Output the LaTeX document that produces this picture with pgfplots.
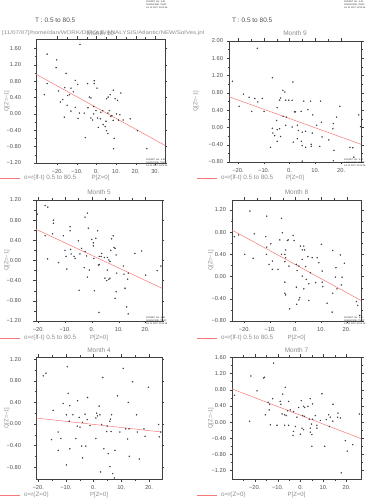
\documentclass[border=0pt]{standalone}
\usepackage{fontspec}
\setmainfont{Liberation Sans}
\usepackage{pgfplots}
\pgfplotsset{compat=1.18}
\definecolor{lred}{RGB}{245,120,120}
\definecolor{tgray}{RGB}{140,140,140}
\definecolor{fgray}{RGB}{80,80,80}
\pgfplotsset{ferret/.style={scale only axis, anchor=south west,
  axis line style={draw=black!75,line width=0.35pt},
  tick align=outside, major tick length=2.5pt, minor tick length=1.5pt,
  every tick/.style={black!75,line width=0.35pt}, minor tick num=1,
  tick label style={font=\fontsize{5.7}{7}\selectfont, text=fgray},
  xticklabel style={yshift=-0.5pt},
  clip=true},
  pts/.style={only marks, mark=*, mark size=0.5pt, black!75, mark options={draw=none,fill=black!70}},
  reg/.style={no marks, lred, line width=0.5pt}}
\newcommand{\stamp}[2]{\node[anchor=north west,align=left,inner sep=0pt,font=\fontsize{2.3}{2.7}\selectfont,text=black!80] at (#1,#2) {FERRET Ver. 5.81\\NOAA/PMEL TMAP\\Jul 11 2007 11:05:26};}
\begin{document}
\begin{tikzpicture}[x=1pt,y=1pt]
\useasboundingbox (0,0) rectangle (378,498);
% ---------------- Panel 1 (Month 10)
\begin{axis}[ferret, at={(36pt,335pt)}, width=129pt, height=124pt,
  xmin=-31, xmax=35, ymin=-1.2, ymax=1.83,
  xtick={-20,-10,0,10,20,30}, xticklabels={−20.,−10.,0.,10.,20.,30.},
  ytick={-1.2,-0.8,-0.4,0,0.4,0.8,1.2,1.6}, yticklabels={−1.20,−0.80,−0.40,0.00,0.40,0.80,1.20,1.60},
  yticklabel style={xshift=-9pt}]
\addplot[pts] coordinates {(-8.5,1.70)(-25.3,1.46)(-20.4,1.32)(-20.7,1.13)(-15.6,0.99)(-25.3,0.74)(-26.7,0.47)(-10.9,0.82)(-9.7,0.72)(-4.6,0.74)(-1.2,0.81)(-1.2,0.74)(0.2,0.63)(-13.1,0.63)(-16.3,0.64)(-19.4,0.56)(-11.9,0.54)(-13.9,0.47)(-14.8,0.45)(-17.3,0.35)(-18.5,0.29)(-15.1,0.21)(-10.9,0.16)(-13.1,0.07)(-16.5,-0.08)(-9.5,-0.11)(-8.8,0.02)(-3.7,0.41)(-2.9,0.39)(-4.4,0.15)(-1.5,0.18)(-0.3,0.08)(-2.9,-0.10)(-1.5,0.0)(-2.0,-0.15)(0.5,-0.10)(0.9,-0.33)(1.9,-0.12)(2.2,0.04)(3.1,0.08)(3.4,-0.26)(4.4,-0.31)(4.8,-0.18)(5.1,-0.41)(5.8,-0.48)(5.8,0.02)(6.5,0.08)(7.3,-0.06)(5.1,0.37)(5.9,0.41)(7.0,0.47)(7.8,-0.04)(8.5,0.58)(8.5,-0.16)(9.0,-0.60)(8.7,-0.85)(9.5,0.37)(10.7,0.33)(10.2,0.0)(11.2,-0.15)(11.9,-0.02)(12.4,0.51)(13.6,-0.15)(17.2,-0.12)(20.9,-0.41)(25.7,-0.85)(-5.8,-0.58)(-6.3,0.02)};
\addplot[reg] coordinates {(-31,0.97)(35,-0.77)};
\end{axis}
% ---------------- Panel 2 (Month 9)
\begin{axis}[ferret, at={(229pt,336pt)}, width=132pt, height=121pt,
  xmin=-23.5, xmax=27.7, ymin=-0.8, ymax=2.0,
  xtick={-20,-10,0,10,20}, xticklabels={−20.,−10.,0.,10.,20.},
  ytick={-0.8,-0.4,0,0.4,0.8,1.2,1.6,2.0}, yticklabels={−0.80,−0.40,0.00,0.40,0.80,1.20,1.60,2.00},
  yticklabel style={xshift=0pt}]
\addplot[pts] coordinates {(-12.5,1.83)(-22.2,1.07)(-6.7,1.15)(1.3,1.05)(-17.9,0.77)(-15.7,0.70)(-13.5,0.67)(-10.6,0.67)(-12.3,0.59)(-14.7,0.37)(-9.9,0.37)(-19.6,0.49)(-4.8,0.46)(-2.6,0.86)(-1.8,0.82)(-3.5,0.68)(-3.9,0.63)(-1.5,0.63)(-0.3,0.63)(1.0,0.63)(1.9,0.36)(2.3,0.36)(4.5,0.37)(5.5,0.61)(8.1,0.61)(12.0,0.61)(7.1,0.41)(9.0,0.29)(-2.5,0.26)(-1.2,0.24)(-5.0,0.16)(-1.5,0.05)(3.0,0.05)(1.0,0.01)(-6.7,-0.02)(-4.8,-0.05)(-3.9,-0.03)(-6.5,-0.13)(-5.8,-0.19)(-3.5,-0.21)(-4.8,-0.32)(-7.4,-0.46)(3.4,-0.07)(4.9,-0.11)(6.2,-0.09)(3.0,-0.26)(4.6,-0.32)(6.2,-0.46)(8.4,-0.39)(8.4,-0.44)(4.9,-0.42)(1.4,-0.34)(4.9,-0.78)(8.8,-0.13)(10.5,0.05)(12.3,0.12)(12.6,-0.22)(11.7,-0.44)(15.2,-0.29)(16.8,-0.03)(17.0,0.09)(17.2,-0.53)(17.0,-0.77)(18.2,0.24)(19.5,0.49)(23.4,-0.46)(24.5,-0.47)(24.9,-0.69)(26.8,0.29)(27.5,0.02)};
\addplot[reg] coordinates {(-23.5,0.71)(27.7,-0.39)};
\end{axis}
% ---------------- Panel 3 (Month 5)
\begin{axis}[ferret, at={(36pt,177pt)}, width=126pt, height=121pt,
  xmin=-20.9, xmax=26.1, ymin=-1.2, ymax=1.2,
  xtick={-20,-10,0,10,20}, xticklabels={−20.,−10.,0.,10.,20.},
  ytick={-1.2,-0.8,-0.4,0,0.4,0.8,1.2}, yticklabels={−1.20,−0.80,−0.40,0.00,0.40,0.80,1.20},
  yticklabel style={xshift=-9pt}]
\addplot[pts] coordinates {(-17.5,1.09)(-16.5,1.06)(-20.4,0.92)(-14.4,0.80)(-14.4,0.74)(-17.5,0.49)(-14.7,0.53)(-10.7,0.49)(-8.2,0.67)(-8.2,0.59)(-5.1,0.39)(-2.6,0.86)(-1.7,0.94)(-1.4,0.64)(2.1,0.59)(-0.1,0.42)(1.4,0.44)(0.5,0.35)(0.5,0.29)(-3.9,0.24)(-2.6,0.18)(-4.5,0.13)(-10.1,0.20)(-8.0,0.22)(-9.7,0.08)(-7.8,0.13)(-6.3,0.04)(-6.7,0.08)(-16.6,0.03)(-12.5,-0.04)(-9.4,-0.17)(-2.9,-0.14)(-1.0,-0.19)(-2.0,0.09)(0.7,0.04)(2.7,0.08)(3.4,0.08)(3.6,0.14)(4.6,0.06)(2.4,-0.09)(2.7,-0.08)(5.7,0.06)(6.3,0.01)(7.0,0.20)(7.9,0.49)(7.3,0.43)(8.2,0.26)(8.6,0.24)(9.0,0.11)(6.7,-0.02)(5.7,-0.19)(6.7,-0.35)(6.3,-0.37)(5.5,-0.40)(4.8,-0.35)(9.2,-0.25)(9.0,-0.62)(8.6,-0.75)(-1.7,-0.33)(-4.8,-0.59)(0.9,-0.60)(2.6,-1.03)(11.7,-0.11)(11.9,-0.27)(13.3,-0.37)(12.3,-0.55)(12.9,-0.92)(13.5,-1.06)(16.0,0.14)(18.5,0.19)(20.0,-0.29)(24.3,-0.20)(25.7,-0.11)(13.5,-0.25)};
\addplot[reg] coordinates {(-20.9,0.62)(26.1,-0.55)};
\end{axis}
% ---------------- Panel 4 (Month 8)
\begin{axis}[ferret, at={(232pt,177pt)}, width=129pt, height=121pt,
  xmin=-24.9, xmax=25.6, ymin=-0.8, ymax=1.38,
  xtick={-20,-10,0,10,20}, xticklabels={−20.,−10.,0.,10.,20.},
  ytick={-0.8,-0.4,0,0.4,0.8,1.2}, yticklabels={−0.80,−0.40,0.00,0.40,0.80,1.20},
  yticklabel style={xshift=0pt}]
\addplot[pts] coordinates {(-17.9,1.18)(-11.3,1.09)(-5.5,1.05)(-24.7,1.03)(-5.2,0.79)(-16.2,0.77)(-11.7,0.72)(-24.0,0.72)(-22.3,0.75)(-9.7,0.59)(-11.3,0.53)(-6.2,0.66)(-3.2,0.65)(-2.9,0.66)(-1.0,0.74)(-0.6,0.65)(-3.9,0.48)(-5.5,0.40)(-4.2,0.40)(-3.9,0.34)(1.9,0.55)(3.2,0.55)(2.6,0.48)(3.5,0.48)(4.8,0.36)(6.5,0.34)(8.4,0.34)(10.1,0.58)(2.6,0.31)(-11.4,0.40)(-19.9,0.40)(-16.6,0.33)(-9.1,0.28)(-10.4,0.22)(-9.1,0.13)(-6.9,0.13)(-4.2,0.27)(-2.6,0.19)(0.3,0.22)(1.3,0.19)(3.9,0.18)(0.6,0.11)(5.8,0.07)(9.1,0.25)(10.4,0.10)(2.6,0.01)(4.2,-0.05)(0.3,-0.19)(3.2,-0.22)(5.2,-0.13)(7.8,-0.11)(10.6,-0.18)(10.4,-0.10)(-4.2,-0.10)(-4.2,-0.30)(-3.9,-0.33)(-2.3,-0.58)(0.4,-0.50)(1.6,-0.38)(1.3,-0.42)(5.2,-0.43)(12.3,-0.48)(14.5,-0.30)(14.3,-0.64)(14.5,0.47)(15.6,-0.01)(15.8,0.16)(16.2,-0.22)(17.5,0.39)(17.9,-0.15)(18.2,-0.01)(19.1,0.24)(23.8,-0.45)(24.3,-0.52)(25.1,-0.70)};
\addplot[reg] coordinates {(-24.9,0.84)(25.6,-0.43)};
\end{axis}
% ---------------- Panel 5 (Month 4)
\begin{axis}[ferret, at={(36pt,19pt)}, width=126pt, height=122pt,
  xmin=-20.8, xmax=24.7, ymin=-1.02, ymax=1.24,
  xtick={-20,-10,0,10,20}, xticklabels={−20.,−10.,0.,10.,20.},
  ytick={-0.8,-0.4,0,0.4,0.8,1.2}, yticklabels={−0.80,−0.40,0.00,0.40,0.80,1.20},
  yticklabel style={xshift=-9pt}]
\addplot[pts] coordinates {(-9.5,1.06)(-18.2,0.89)(-17.2,0.94)(10.7,1.03)(3.3,0.86)(14.1,0.78)(19.8,0.68)(-9.2,0.57)(-11.0,0.38)(-8.6,0.34)(-5.8,0.43)(-2.2,0.49)(8.6,0.52)(12.5,0.40)(2.0,0.33)(-14.6,0.25)(-9.8,0.17)(-7.5,0.17)(-5.2,0.12)(-3.1,0.18)(1.1,0.20)(1.4,0.15)(2.3,0.17)(0.8,0.11)(6.5,0.17)(6.1,0.09)(5.9,0.05)(-8.8,0.05)(-2.3,0.08)(-4.0,0.03)(-1.3,-0.03)(-5.9,-0.04)(-4.9,-0.06)(2.9,-0.01)(4.9,-0.04)(4.7,-0.14)(6.3,-0.14)(11.6,-0.09)(12.8,-0.09)(15.5,0.17)(18.2,-0.09)(18.6,-0.23)(23.5,-0.01)(23.7,-0.24)(24.2,-0.15)(15.8,-0.15)(9.5,-0.15)(-12.8,-0.15)(-11.8,-0.27)(-6.4,-0.27)(-15.2,-0.29)(0.8,-0.27)(12.3,-0.28)(-12.8,-0.49)(-8.6,-0.46)(-4.3,-0.41)(-2.8,-0.41)(3.7,-0.46)(7.7,-0.49)(5.3,-0.55)(-4.0,-0.63)(12.9,-0.60)(16.5,-0.65)(-9.8,-0.76)(5.9,-0.79)(2.5,-0.89)(6.9,-0.92)(7.5,-1.0)};
\addplot[reg] coordinates {(-20.8,0.11)(24.7,-0.15)};
\end{axis}
% ---------------- Panel 6 (Month 7)
\begin{axis}[ferret, at={(232pt,19pt)}, width=129pt, height=122pt,
  xmin=-29.9, xmax=26.3, ymin=-1.41, ymax=1.61,
  xtick={-30,-20,-10,0,10,20}, xticklabels={−30.,−20.,−10.,0.,10.,20.},
  ytick={-1.2,-0.8,-0.4,0,0.4,0.8,1.2,1.6}, yticklabels={−1.20,−0.80,−0.40,0.00,0.40,0.80,1.20,1.60},
  yticklabel style={xshift=0pt}]
\addplot[pts] coordinates {(-11.8,1.46)(-29.7,1.23)(-21.7,1.14)(-15.7,1.11)(-16.1,1.09)(-6.7,0.86)(-19.0,0.77)(9.3,0.70)(-7.8,0.69)(-28.8,0.66)(-12.2,0.58)(-14.2,0.49)(-13.5,0.44)(-8.9,0.51)(-8.6,0.44)(-5.2,0.51)(0.3,0.53)(4.2,0.58)(3.2,0.39)(5.2,0.45)(1.7,0.36)(1.3,0.39)(-0.9,0.36)(-5.7,0.28)(-4.5,0.30)(-13.7,0.30)(-15.4,0.18)(-8.1,0.20)(-7.0,0.18)(-6.3,0.16)(-3.1,0.26)(0.9,0.16)(-1.6,0.12)(1.7,0.14)(6.4,0.16)(5.2,0.07)(3.8,0.07)(8.6,0.04)(11.2,0.06)(12.2,0.18)(12.9,0.12)(14.1,0.44)(16.3,0.22)(16.1,0.12)(17.3,0.10)(14.0,0.02)(12.5,-0.11)(7.1,-0.08)(7.1,-0.15)(4.7,-0.05)(4.2,-0.15)(4.2,-0.25)(4.9,-0.31)(0.6,-0.15)(1.3,-0.19)(-2.3,-0.11)(-3.1,-0.23)(-0.1,-0.30)(-3.3,-0.33)(-5.2,-0.08)(-7.0,-0.08)(-10.3,-0.08)(-13.2,-0.07)(-22.2,0.02)(4.9,-0.60)(10.5,-0.60)(20.3,-0.72)(19.5,-0.46)(22.7,-0.56)(25.6,0.20)(17.7,-1.26)};
\addplot[reg] coordinates {(-29.9,0.82)(26.3,-0.41)};
\end{axis}
% ---------------- texts
\node[anchor=west,inner sep=0pt,font=\fontsize{6.5}{7}\selectfont,text=fgray] at (35,478) {T : 0.5 to 80.5};
\node[anchor=west,inner sep=0pt,font=\fontsize{6.5}{7}\selectfont,text=fgray] at (232,478) {T : 0.5 to 80.5};
\node[anchor=west,inner sep=0pt,font=\fontsize{5.2}{6}\selectfont,text=tgray,xscale=1.2,transform shape] at (2,465) {[11/07/07]/home/dan/WORK/DIPOLE/ANALYSIS/Atlantic/NEW/SolVes.jnl};
% titles
\foreach \xx/\yy/\tt in {100.5/465/Month 10,295/465/Month 9,99/306/Month 5,296.5/306/Month 8,99/148/Month 4,296.5/148/Month 7}
  {\node[inner sep=0pt,font=\fontsize{6.5}{8}\selectfont,text=tgray] at (\xx,\yy) {\tt};}
% y labels
\foreach \xx/\yy in {7/397,196/396.5,7/237.5,211/237.5,7/80,211/80}
  {\node[rotate=90,inner sep=0pt,font=\fontsize{5.7}{7}\selectfont,text=tgray] at (\xx,\yy) {Q[Z=−1]};}
% x labels
\foreach \xx/\yy in {100.5/320,295/320,99/160,296.5/160,99/3,296.5/3}
  {\node[inner sep=0pt,font=\fontsize{6}{7}\selectfont,text=tgray] at (\xx,\yy) {P[Z=0]};}
% legends
\foreach \xa/\yy/\tt in {0/320/o=r(lf-t) 0.5 to 80.5,197/320/o=r(lf-t) 0.5 to 80.5,0/160/o=r(lf-t) 0.5 to 80.5,197/160/o=r(lf-t) 0.5 to 80.5,0/3/o=r(Z=0),197/3/o=r(Z=0)}
  {\draw[lred,line width=0.5pt] (\xa,\yy) -- ++(20,0);
   \node[anchor=west,inner sep=0pt,font=\fontsize{6.3}{7}\selectfont,text=tgray] at (\xa+24,\yy) {\tt};}
% stamps
\stamp{146}{497}
\stamp{344}{497}
\stamp{146}{339}
\stamp{344}{339}
\stamp{146}{181}
\stamp{344}{181}
\end{tikzpicture}
\end{document}
